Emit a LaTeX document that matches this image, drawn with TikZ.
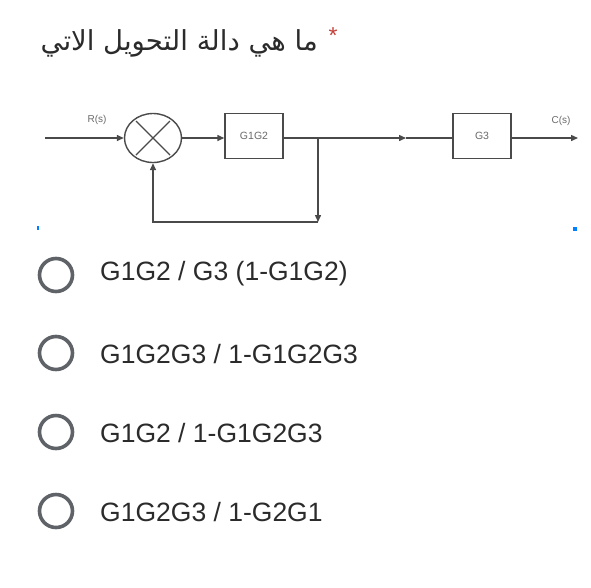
\documentclass[tikz,border=0pt]{standalone}
\usepackage{fontspec}
\setmainfont{Liberation Sans}
\newfontfamily\arabicfont[Script=Arabic]{DejaVu Sans}
\TeXXeTstate=1
\usetikzlibrary{arrows.meta,shapes.geometric,calc}
\definecolor{ln}{HTML}{4A4A4A}
\definecolor{lbl}{HTML}{6A6A6A}
\definecolor{txt}{HTML}{2B2B2B}
\definecolor{ring}{HTML}{5F6368}
\definecolor{req}{HTML}{C5403A}
\begin{document}
\begin{tikzpicture}[x=1pt,y=-1pt,
  wire/.style={draw=ln, line width=1.4pt},
  arr/.style={wire,-{Triangle[length=7pt,width=6pt]}},
  block/.style={draw=ln, line width=1.4pt, minimum width=58pt, minimum height=45pt, inner sep=0pt, font=\fontsize{10.5}{11}\selectfont, text=lbl},
  sumnode/.style={ellipse, draw=ln, line width=1.4pt, minimum width=57pt, minimum height=49pt, inner sep=0pt},
  sig/.style={font=\fontsize{10}{11}\selectfont, text=lbl},
  radio/.style={circle, draw=ring, line width=3.6pt, minimum size=33pt, inner sep=0pt},
  opt/.style={anchor=west, font=\fontsize{26.5}{28}\selectfont, text=txt, inner sep=0pt}
]
\useasboundingbox[fill=white] (0,0) rectangle (591,587);

% title
\node[anchor=east, inner sep=0pt, text=txt, font=\arabicfont\fontsize{27.5}{32}\selectfont] (title) at (318,43) {\beginR ما هي دالة التحويل الاتي\endR};
\node[inner sep=0pt, text=req, font=\fontsize{23}{24}\selectfont] (star) at (333,36) {*};

% block diagram
\coordinate (in) at (45,138);
\node[sumnode] (sum) at (153,138) {};
\draw[ln, line width=1.4pt] ($(sum.center)+(-17,-17)$) -- ($(sum.center)+(17,17)$)
  ($(sum.center)+(-17,17)$) -- ($(sum.center)+(17,-17)$);
\node[block] (g12) at (254,136) {G1G2};
\coordinate (br) at (318,138);
\coordinate (corner) at (318,222);
\coordinate (mid) at (406,138);
\node[block] (g3) at (482,136) {G3};
\coordinate (out) at (578,138);

\draw[arr] (in) -- (sum.west);
\draw[arr] (sum.east) -- (g12.west |- sum.east);
\draw[wire] (g12.east |- br) -- (br);
\draw[arr] (br) -- (mid);
\draw[wire] (mid) -- (g3.west |- mid);
\draw[arr] (g3.east |- out) -- (out);
\draw[arr] (br) -- (corner);
\draw[arr] (corner) -| (sum.south);

\node[sig] (rs) at (97,120) {R(s)};
\node[sig] (cs) at (561,121) {C(s)};

% small blue marks
\fill[blue!50!cyan] (37,226) rectangle (39,230);
\fill[blue!50!cyan] (573,227) rectangle (577,231);

% options
\node[radio] (r1) at (56,275) {};
\node[radio] (r2) at (56,353) {};
\node[radio] (r3) at (56,432) {};
\node[radio] (r4) at (56,511) {};
\node[opt] (o1) at (100,274) {G1G2 / G3 (1-G1G2)};
\node[opt] (o2) at (100,354) {G1G2G3 / 1-G1G2G3};
\node[opt] (o3) at (100,433) {G1G2 / 1-G1G2G3};
\node[opt] (o4) at (100,512) {G1G2G3 / 1-G2G1};
\end{tikzpicture}
\end{document}
